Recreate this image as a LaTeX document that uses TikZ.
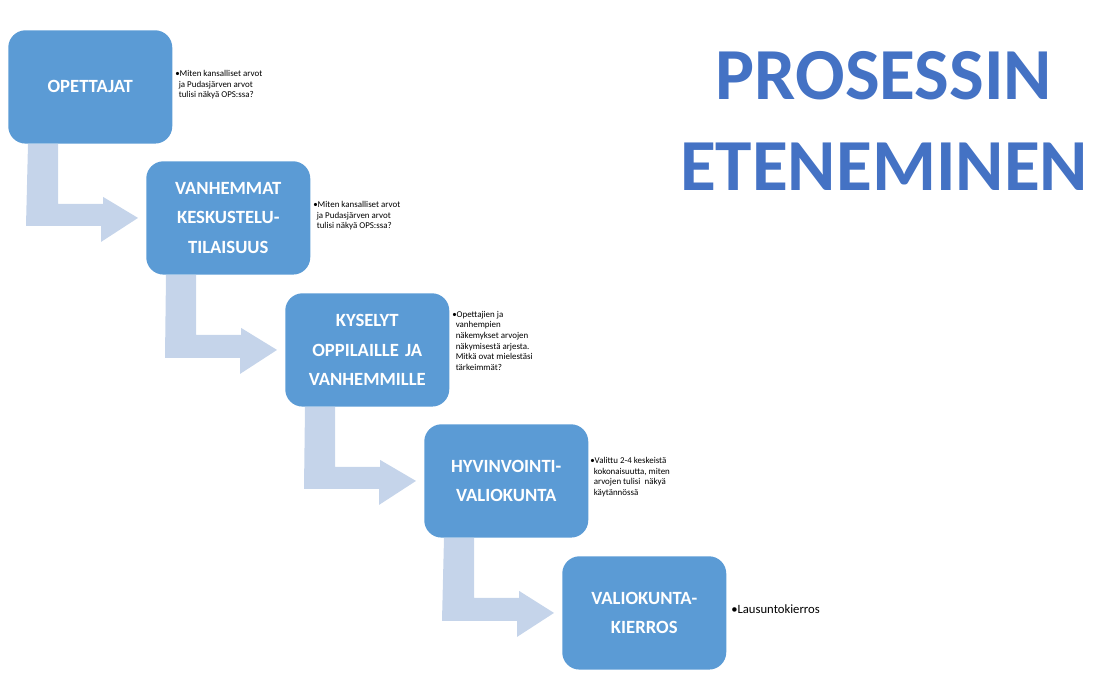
\documentclass[tikz,border=0pt]{standalone}
\usepackage{fontspec}
\setmainfont{Carlito}
\usetikzlibrary{positioning}
\definecolor{boxblue}{HTML}{5B9BD5}
\definecolor{flowblue}{HTML}{C5D4EA}
\definecolor{titleblue}{HTML}{4472C4}
\tikzset{
  stage/.style={rectangle,rounded corners=13pt,fill=boxblue,text=white,font=\bfseries\fontsize{14}{22}\selectfont,
    minimum width=123pt,minimum height=85pt,text width=115pt,align=center,inner sep=0pt},
  note/.style={anchor=north west,font=\fontsize{6.7}{7.9}\selectfont,align=left,inner sep=0pt},
  flow/.style={fill=flowblue}
}
\newcommand{\stagenode}{\node[stage,anchor=north west]}
\begin{document}
\begin{tikzpicture}[x=0.75pt,y=-0.75pt]
      \useasboundingbox (0,0) rectangle (1101,685);
      \stagenode (ope) at (8,30) {OPETTAJAT}; %
      \stagenode (van) at (146,161) {VANHEMMAT\\KESKUSTELU-\\TILAISUUS}; %
      \stagenode (kys) at (285,293) {KYSELYT\\OPPILAILLE JA\\VANHEMMILLE}; %
      \stagenode (hyv) at (424,424) {HYVINVOINTI-\\VALIOKUNTA}; %
      \stagenode (val) at (562,556) {VALIOKUNTA-\\KIERROS}; %
      % bent arrows between stages
      \foreach \a/\b in {ope/van,van/kys,kys/hyv,hyv/val}{
        \fill[flow] ([xshift=15pt]\a.south west) -- ++(30,0) -- ++(0,60) -- ++(45,0) -- ++(0,-7)
          -- ([xshift=-6pt]\b.west) -- ++(-37,24) -- ++(0,-16) -- ++(-75,0) -- cycle;
      }
      \node[note] (n1) at (175,70) {\textbullet Miten kansalliset arvot\\\ \,ja Pudasjärven arvot\\\ \,tulisi näkyä OPS:ssa?};
      \node[note] (n2) at (313,201) {\textbullet Miten kansalliset arvot\\\ \,ja Pudasjärven arvot\\\ \,tulisi näkyä OPS:ssa?};
      \node[note] (n3) at (452,311) {\textbullet Opettajien ja\\\ \,vanhempien\\\ \,näkemykset arvojen\\\ \,näkymisestä arjesta.\\\ \,Mitkä ovat mielestäsi\\\ \,tärkeimmät?};
      \node[note] (n4) at (590,457) {\textbullet Valittu 2-4 keskeistä\\\ \,kokonaisuutta, miten\\\ \,arvojen tulisi \ näkyä\\\ \,käytännössä};
      \node[note,font=\fontsize{9.5}{11}\selectfont] (n5) at (731,604) {\textbullet Lausuntokierros};
      \node[font=\bfseries\fontsize{55}{68}\selectfont,text=titleblue,align=center] (title) at (884,121) {PROSESSIN\\ETENEMINEN};
    \end{tikzpicture}
\end{document}
